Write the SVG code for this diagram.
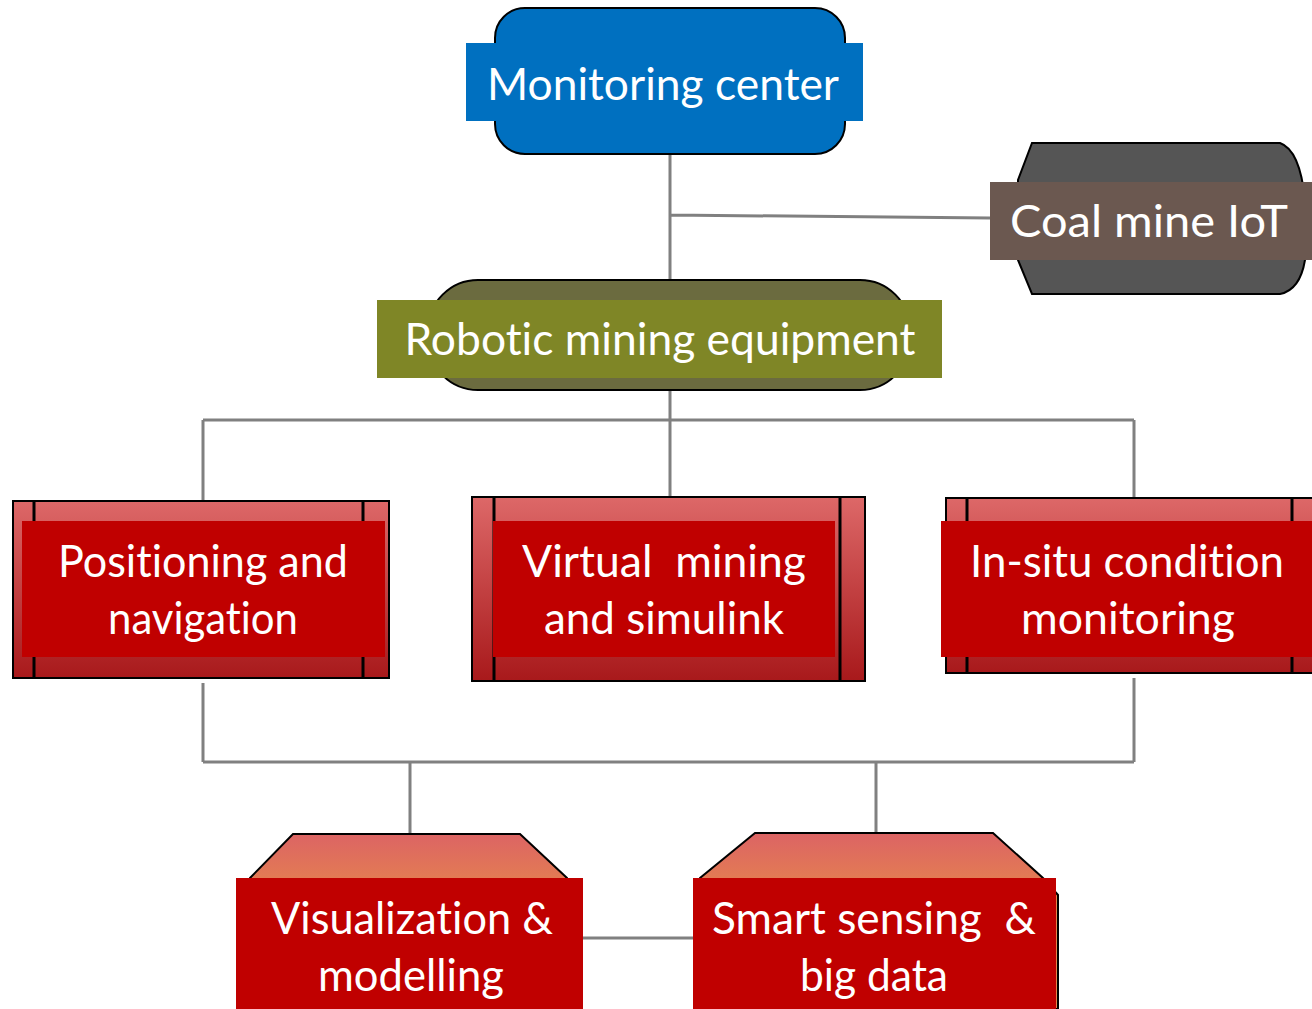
<svg xmlns="http://www.w3.org/2000/svg" width="1312" height="1009" viewBox="0 0 1312 1009">
<defs>
<linearGradient id="gRed" x1="0" y1="0" x2="0" y2="1">
<stop offset="0" stop-color="#DD6868"/>
<stop offset="1" stop-color="#A8191B"/>
</linearGradient>
<linearGradient id="gOr" gradientUnits="userSpaceOnUse" x1="0" y1="834" x2="0" y2="900">
<stop offset="0" stop-color="#DC6464"/>
<stop offset="1" stop-color="#E6864C"/>
</linearGradient>
<style>
.t{font-family:"Lato","Open Sans",sans-serif;font-size:44px;fill:#FFFFFF;text-anchor:middle;white-space:pre;font-variant-ligatures:none}
.c{stroke:#808080;stroke-width:3;fill:none}
.o{stroke:#000;stroke-width:2}
.v{stroke:#000;stroke-width:3}
.r{fill:#C00000}
</style>
</defs>
<rect width="1312" height="1009" fill="#FFFFFF"/>
<g id="connectors">
<path class="c" d="M670 154V280M670 215L990 218M670 390V420M203 420H1134M203 420V500M670 420V496M1134 420V498M203 683V762M1134 678V762M203 762H1134M410 762V833M876 762V832M583 938H693"/>
</g>
<g id="monitoring">
<rect x="495" y="8" width="350" height="146" rx="30" fill="#0070C0" class="o"/>
<rect x="466" y="43" width="397" height="78" fill="#0070C0"/>
<text class="t" x="663" y="100" textLength="352" lengthAdjust="spacingAndGlyphs">Monitoring center</text>
</g>
<g id="iot">
<path d="M1032 143H1280Q1300 150 1305 200V260Q1300 290 1280 294H1032L1018 260V180Z" fill="#555555" class="o"/>
<rect x="990" y="182" width="322" height="78" fill="#6B5850"/>
<text class="t" x="1149" y="237" textLength="278" lengthAdjust="spacingAndGlyphs">Coal mine IoT</text>
</g>
<g id="robotic">
<rect x="428" y="280" width="482" height="110" rx="50" fill="#6B6B3F" class="o"/>
<rect x="377" y="300" width="565" height="78" fill="#7F8626"/>
<text class="t" x="660" y="355" textLength="511" lengthAdjust="spacingAndGlyphs">Robotic mining equipment</text>
</g>
<g id="positioning">
<rect x="13" y="501" width="376" height="177" fill="url(#gRed)" class="o"/>
<path class="v" d="M34 501V678M363 501V678"/>
<rect class="r" x="22" y="521" width="363" height="136"/>
<text class="t" x="203" y="577" textLength="290" lengthAdjust="spacingAndGlyphs">Positioning and</text>
<text class="t" x="203" y="634" textLength="190" lengthAdjust="spacingAndGlyphs">navigation</text>
</g>
<g id="virtual">
<rect x="472" y="497" width="393" height="184" fill="url(#gRed)" class="o"/>
<path class="v" d="M494 497V681M840 497V681"/>
<rect class="r" x="493" y="521" width="342" height="136"/>
<text class="t" x="664" y="577" textLength="284" lengthAdjust="spacingAndGlyphs" xml:space="preserve">Virtual  mining</text>
<text class="t" x="664" y="634" textLength="240" lengthAdjust="spacingAndGlyphs">and simulink</text>
</g>
<g id="insitu">
<rect x="946" y="498" width="370" height="175" fill="url(#gRed)" class="o"/>
<path class="v" d="M967 498V673M1292 498V673"/>
<rect class="r" x="941" y="521" width="371" height="136"/>
<text class="t" x="1127" y="577" textLength="314" lengthAdjust="spacingAndGlyphs">In-situ condition</text>
<text class="t" x="1128" y="634" textLength="214" lengthAdjust="spacingAndGlyphs">monitoring</text>
</g>
<g id="visualization">
<path d="M293 834H520L567 878V1009H250V878Z" fill="url(#gOr)" class="o"/>
<rect class="r" x="236" y="878" width="347" height="131"/>
<text class="t" x="412" y="934" textLength="282" lengthAdjust="spacingAndGlyphs">Visualization &amp;</text>
<text class="t" x="411" y="991" textLength="186" lengthAdjust="spacingAndGlyphs">modelling</text>
</g>
<g id="smart">
<path d="M755 833H993L1043 878L1058 895V1009H700V878Z" fill="url(#gOr)" class="o"/>
<rect class="r" x="693" y="878" width="363" height="131"/>
<text class="t" x="874" y="934" textLength="324" lengthAdjust="spacingAndGlyphs" xml:space="preserve">Smart sensing  &amp;</text>
<text class="t" x="874" y="991" textLength="148" lengthAdjust="spacingAndGlyphs">big data</text>
</g>
</svg>
